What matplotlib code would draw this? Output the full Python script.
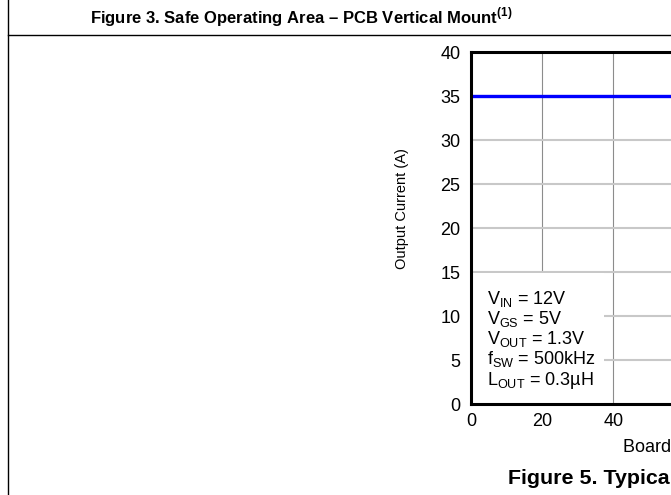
import matplotlib
matplotlib.use("Agg")
import matplotlib.pyplot as plt
from matplotlib.patches import Rectangle
from matplotlib.lines import Line2D

plt.rcParams['font.family'] = ['Liberation Sans', 'DejaVu Sans']
plt.rcParams['mathtext.fontset'] = 'custom'
plt.rcParams['mathtext.rm'] = 'Liberation Sans'
plt.rcParams['mathtext.bf'] = 'Liberation Sans:bold'

# data
board_temp = [0, 20, 40, 60]          # deg C
output_current = [35, 35, 35, 35]     # A
x_ticks = [0, 20, 40, 60, 80, 100, 120]
y_ticks = [0, 5, 10, 15, 20, 25, 30, 35, 40]
conditions = [
    r"V$_{\mathrm{IN}}$ = 12V",
    r"V$_{\mathrm{GS}}$ = 5V",
    r"V$_{\mathrm{OUT}}$ = 1.3V",
    r"f$_{\mathrm{SW}}$ = 500kHz",
    r"L$_{\mathrm{OUT}}$ = 0.3µH",
]

W, H = 671, 495
fig = plt.figure(figsize=(W / 100, H / 100), dpi=100)

# table frame of the datasheet page
fig.add_artist(Line2D([8 / W, 8 / W], [0, 1], color='black', lw=1.0))
fig.add_artist(Line2D([8 / W, 1], [1 - 34.7 / H, 1 - 34.7 / H], color='black', lw=1.0))
fig.text(301 / W, 1 - 17 / H, r"Figure 3. Safe Operating Area – PCB Vertical Mount$^{\mathbf{(1)}}$",
         ha='center', va='center', fontsize=12, fontweight='bold')

# axes run off the right edge of the crop
ax = fig.add_axes([471 / W, 1 - 404.3 / H, 427 / W, 352 / H])
ax.plot(board_temp, output_current, color='#0000ff', lw=2.4, zorder=3)
ax.set_xlim(0, 120)
ax.set_ylim(0, 40)
ax.set_xticks(x_ticks)
ax.set_yticks(y_ticks)
ax.tick_params(length=0, labelsize=13)
ax.tick_params(axis='y', pad=7.5)
ax.tick_params(axis='x', pad=6)
ax.yaxis.grid(True, color='#c8c8c8', lw=1.5)
ax.xaxis.grid(True, color='#8c8c8c', lw=0.8)
ax.set_axisbelow(True)
for s in ax.spines.values():
    s.set_linewidth(2.2)
    s.set_zorder(4)

# white block behind the conditions text
ax.add_patch(Rectangle((0, 0), 37.4, 14.9, facecolor='white', edgecolor='none', zorder=1.5))
ax.text(4.5, 13.15, "\n".join(conditions), ha='left', va='top', fontsize=13,
        linespacing=1.02, zorder=3)

ax.set_xlabel("Board Temperature (°C)", fontsize=13, ha='left')
ax.xaxis.set_label_coords((623 - 471) / 427, -(448 - 404.3) / 352)
ax.xaxis.label.set_va('center')
fig.text(402 / W, 1 - 209 / H, "Output Current (A)", rotation=90, ha='center', va='center',
         fontsize=10.5)

fig.text(508 / W, 1 - 478 / H, "Figure 5. Typical Safe Operating Area", ha='left', va='center',
         fontsize=15.4, fontweight='bold')

fig.savefig("out.png", dpi=100)
